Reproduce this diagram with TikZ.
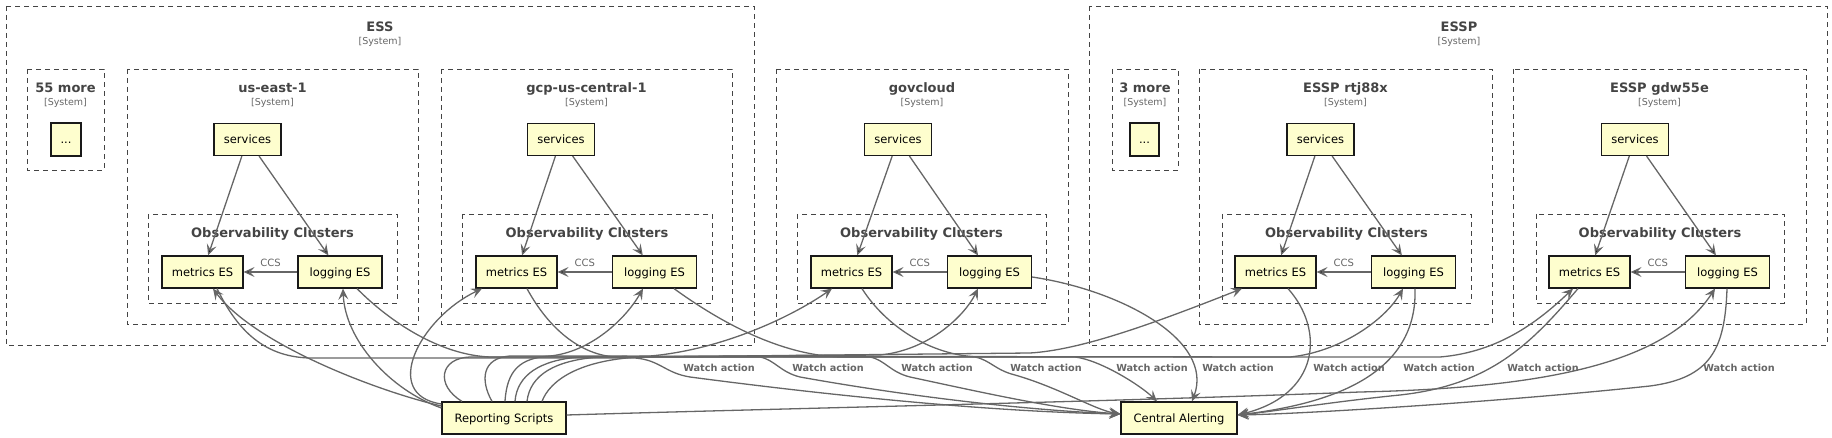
\documentclass[tikz,border=0pt]{standalone}
\usepackage{fontspec}
\setmainfont{DejaVu Sans}
\usetikzlibrary{positioning}
\usetikzlibrary{arrows.meta}

\definecolor{boxfill}{RGB}{254,254,206}
\definecolor{linegray}{RGB}{102,102,102}
\definecolor{titlegray}{RGB}{68,68,68}

\begin{document}
\begin{tikzpicture}[x = 1pt, y = -1pt,
esbox/.style = {shape = rectangle, draw = black!90, fill = boxfill, line width = 1.2pt, minimum height = 32pt, inner sep = 0pt, text height = 9pt, text depth = 0pt, font = \fontsize{11.5}{13}\selectfont},
bound/.style = {draw = titlegray, dash pattern = on 5pt off 4pt, line width = 0.9pt},
systitle/.style = {anchor = base, text = titlegray, inner sep = 0pt, font = \bfseries\fontsize{13}{15}\selectfont},
stereo/.style = {anchor = base, text = black!60, inner sep = 0pt, font = \fontsize{9.5}{11}\selectfont},
flow/.style = {draw = linegray, line width = 1.3pt, -{Stealth[length = 11pt, width = 10pt, inset = 4.5pt]}},
tag/.style = {text = linegray, inner sep = 0pt, font = \fontsize{10}{12}\selectfont},
watch/.style = {anchor = base, text = linegray, inner sep = 0pt, font = \bfseries\fontsize{9.7}{12}\selectfont},
]
\useasboundingbox (0,0) rectangle (1832,438);

% outer systems
\draw[bound] (6,6) rectangle (754,345);
\node[systitle] (ESSt) at (380,31.5) {ESS};
\node[stereo] (ESSs) at (380,44.5) {[System]};
\draw[bound] (1089,6) rectangle (1827,345);
\node[systitle] (ESSPt) at (1459,31.5) {ESSP};
\node[stereo] (ESSPs) at (1459,44.5) {[System]};

% placeholders
\draw[bound] (27,69) rectangle (104,170);
\node[systitle] (X1t) at (65.5,93) {55 more};
\node[stereo] (X1s) at (65.5,106) {[System]};
\node[esbox, minimum width = 30pt, minimum height = 33pt] (X1) at (66,139.5) {...};
\draw[bound] (1112,69) rectangle (1178,170);
\node[systitle] (X2t) at (1145,93) {3 more};
\node[stereo] (X2s) at (1145,106) {[System]};
\node[esbox, minimum width = 29pt, minimum height = 33pt] (X2) at (1144.5,139.5) {...};

% us-east-1
\draw[bound] (127,69) rectangle (418,324);
\node[systitle] (T1) at (272.5,93) {us-east-1};
\node[stereo] (T1s) at (272.5,106) {[System]};
\node[esbox, minimum width = 67pt] (S1) at (247.5,139.5) {services};
\draw[bound] (148,214) rectangle (397,303);
\node[systitle] (O1) at (272.5,237.5) {Observability Clusters};
\node[esbox, minimum width = 81pt] (M1) at (202.5,272) {metrics ES};
\node[esbox, minimum width = 84pt] (L1) at (340,272) {logging ES};

% gcp-us-central-1
\draw[bound] (441,69) rectangle (732,324);
\node[systitle] (T2) at (586.5,93) {gcp-us-central-1};
\node[stereo] (T2s) at (586.5,106) {[System]};
\node[esbox, minimum width = 67pt] (S2) at (561,139.5) {services};
\draw[bound] (462,214) rectangle (712,303);
\node[systitle] (O2) at (587,237.5) {Observability Clusters};
\node[esbox, minimum width = 81pt] (M2) at (516.5,272) {metrics ES};
\node[esbox, minimum width = 84pt] (L2) at (654.5,272) {logging ES};

% govcloud
\draw[bound] (776,69) rectangle (1068,324);
\node[systitle] (T3) at (922,93) {govcloud};
\node[stereo] (T3s) at (922,106) {[System]};
\node[esbox, minimum width = 67pt] (S3) at (898,139.5) {services};
\draw[bound] (797,214) rectangle (1046,303);
\node[systitle] (O3) at (921.5,237.5) {Observability Clusters};
\node[esbox, minimum width = 81pt] (M3) at (851.5,272) {metrics ES};
\node[esbox, minimum width = 84pt] (L3) at (989.5,272) {logging ES};

% ESSP rtj88x
\draw[bound] (1199,69) rectangle (1492,324);
\node[systitle] (T4) at (1345.5,93) {ESSP rtj88x};
\node[stereo] (T4s) at (1345.5,106) {[System]};
\node[esbox, minimum width = 67pt] (S4) at (1320.5,139.5) {services};
\draw[bound] (1222,214) rectangle (1471,303);
\node[systitle] (O4) at (1346.5,237.5) {Observability Clusters};
\node[esbox, minimum width = 81pt] (M4) at (1275.5,272) {metrics ES};
\node[esbox, minimum width = 84pt] (L4) at (1413.5,272) {logging ES};

% ESSP gdw55e
\draw[bound] (1513,69) rectangle (1806,324);
\node[systitle] (T5) at (1659.5,93) {ESSP gdw55e};
\node[stereo] (T5s) at (1659.5,106) {[System]};
\node[esbox, minimum width = 67pt] (S5) at (1635,139.5) {services};
\draw[bound] (1536,214) rectangle (1784,303);
\node[systitle] (O5) at (1660,237.5) {Observability Clusters};
\node[esbox, minimum width = 81pt] (M5) at (1589.5,272) {metrics ES};
\node[esbox, minimum width = 84pt] (L5) at (1727.5,272) {logging ES};

% shared
\node[esbox, minimum width = 124pt] (RS) at (504,418) {Reporting Scripts};
\node[esbox, minimum width = 116pt] (CA) at (1179,418) {Central Alerting};

% inside each system
\path[flow] (S1) edge (M1) (S1) edge (L1);
\path[flow] (L1) edge node[tag, above = 5pt] (c1) {CCS} (M1);
\path[flow] (S2) edge (M2) (S2) edge (L2);
\path[flow] (L2) edge node[tag, above = 5pt] (c2) {CCS} (M2);
\path[flow] (S3) edge (M3) (S3) edge (L3);
\path[flow] (L3) edge node[tag, above = 5pt] (c3) {CCS} (M3);
\path[flow] (S4) edge (M4) (S4) edge (L4);
\path[flow] (L4) edge node[tag, above = 5pt] (c4) {CCS} (M4);
\path[flow] (S5) edge (M5) (S5) edge (L5);
\path[flow] (L5) edge node[tag, above = 5pt] (c5) {CCS} (M5);

% reporting scripts to the clusters
\path[flow] ([yshift=12pt]RS.west) .. controls (380,392) and (255,345) .. ([xshift=10.5pt]M1.south);
\path[flow] ([yshift=10pt]RS.west) .. controls (390,390) and (345,340) .. ([xshift=3pt]L1.south);
\path[flow] ([yshift=14pt]RS.west) .. controls (380,395) and (420,318) .. ([xshift=-34.5pt]M2.south);
\path[flow] ([xshift=1pt]RS.north) .. controls (507,370) and (520,358) .. (550,356) .. controls (590,352) and (625,320) .. ([xshift=-11.5pt]L2.south);
\path[flow] ([xshift=11pt]RS.north) .. controls (517,375) and (540,360) .. (580,357) -- (650,356) .. controls (720,350) and (790,318) .. ([xshift=-19.5pt]M3.south);
\path[flow] ([xshift=23pt]RS.north) .. controls (530,375) and (555,360) .. (600,357) -- (880,355) .. controls (930,350) and (965,315) .. ([xshift=-11.5pt]L3.south);
\path[flow] ([xshift=38pt]RS.north) .. controls (550,380) and (580,360) .. (640,357) -- (1030,353) .. controls (1080,350) and (1150,325) .. ([xshift=-33.5pt]M4.south);
\path[flow] ([xshift=-12pt]RS.north) .. controls (480,380) and (482,358) .. (510,356) -- (1290,357) .. controls (1340,352) and (1385,320) .. ([xshift=-10.5pt]L4.south);
\path[flow] ([xshift=-42pt]RS.north) .. controls (435,385) and (440,358) .. (470,357) -- (1440,357) .. controls (1500,352) and (1540,320) .. ([xshift=-16.5pt]M5.south);
\path[flow] ([yshift=3pt]RS.east) .. controls (800,408) and (1100,402) .. (1360,392) .. controls (1540,388) and (1665,365) .. ([xshift=-12.5pt]L5.south);

% clusters to central alerting
\path[flow] ([xshift=14.5pt]M1.south) .. controls (235,325) and (260,357) .. (310,358) -- (635,358) .. controls (660,360) and (665,373) .. (690,377) .. controls (850,398) and (1000,412) .. ([yshift=4pt]CA.west);
\path[flow] ([xshift=17pt]L1.south) .. controls (390,322) and (440,355) .. (490,357) -- (760,357) .. controls (775,360) and (780,372) .. (800,377) .. controls (900,395) and (1020,410) .. ([yshift=4pt]CA.west);
\path[flow] ([xshift=10.5pt]M2.south) .. controls (545,322) and (575,354) .. (615,357) -- (870,357) .. controls (885,360) and (890,372) .. (910,377) .. controls (980,392) and (1060,410) .. ([yshift=4pt]CA.west);
\path[flow] ([xshift=19.5pt]L2.south) .. controls (720,322) and (780,355) .. (840,357) -- (975,357) .. controls (990,360) and (995,370) .. (1015,375) .. controls (1060,388) and (1095,410) .. ([yshift=4pt]CA.west);
\path[flow] ([xshift=10.5pt]M3.south) .. controls (885,325) and (930,356) .. (980,357) -- (1075,357) .. controls (1100,360) and (1140,385) .. ([xshift=-22pt]CA.north);
\path[flow] ([yshift=-5pt]L3.east) .. controls (1120,290) and (1215,340) .. ([xshift=13pt]CA.north);
\path[flow] ([xshift=12.5pt]M4.south) .. controls (1325,330) and (1320,395) .. ([yshift=3pt]CA.east);
\path[flow] ([xshift=1.5pt]L4.south) .. controls (1418,380) and (1320,405) .. ([yshift=3pt]CA.east);
\path[flow] ([xshift=-11.5pt]M5.south) .. controls (1530,345) and (1490,385) .. (1400,395) .. controls (1330,402) and (1270,412) .. ([yshift=3pt]CA.east);
\path[flow] ([xshift=-0.5pt]L5.south) .. controls (1725,350) and (1710,378) .. (1650,386) .. controls (1500,402) and (1300,414) .. ([yshift=3pt]CA.east);

\node[watch] (w1) at (719,372) {Watch action};
\node[watch] (w2) at (828,372) {Watch action};
\node[watch] (w3) at (937,372) {Watch action};
\node[watch] (w4) at (1046,372) {Watch action};
\node[watch] (w5) at (1152,372) {Watch action};
\node[watch] (w6) at (1238,372) {Watch action};
\node[watch] (w7) at (1349,372) {Watch action};
\node[watch] (w8) at (1439,372) {Watch action};
\node[watch] (w9) at (1543,372) {Watch action};
\node[watch] (w10) at (1739,372) {Watch action};
\end{tikzpicture}
\end{document}
